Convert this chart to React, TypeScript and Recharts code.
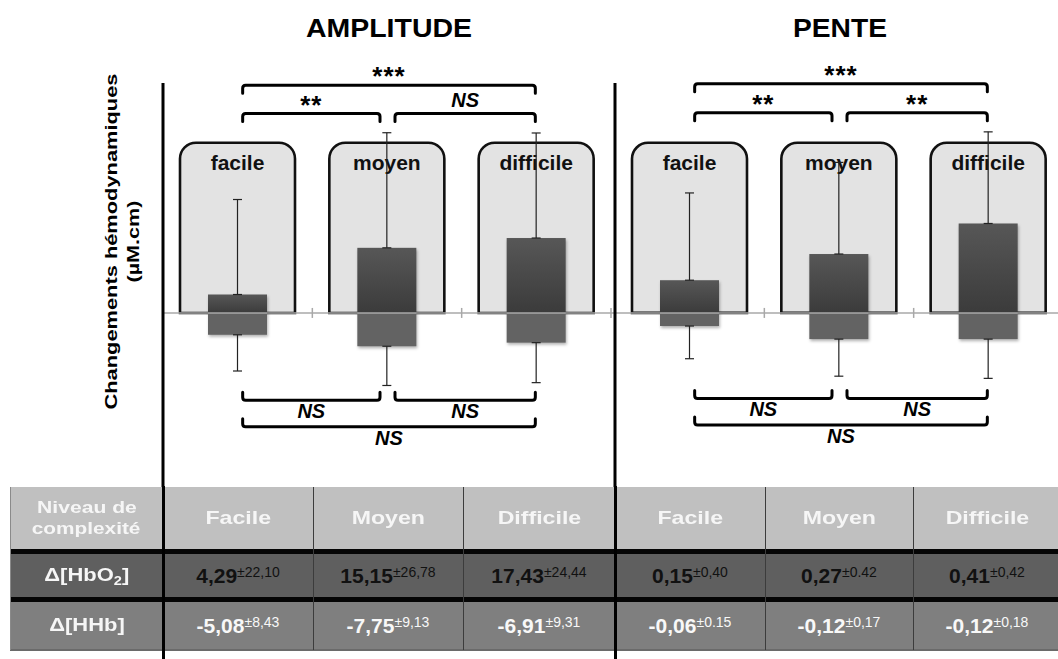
import React from 'react';
import { ComposedChart, Bar, XAxis, YAxis, ErrorBar, ReferenceLine } from 'recharts';

// categories / table headers
const categories = ['facile', 'moyen', 'difficile'];
const tableHeaders = ['Facile', 'Moyen', 'Difficile'];

// AMPLITUDE (µM.cm)
const amplitudeHbO2 = [4.29, 15.15, 17.43];
const amplitudeHbO2Sd = [22.1, 26.78, 24.44];
const amplitudeHHb = [-5.08, -7.75, -6.91];
const amplitudeHHbSd = [8.43, 9.13, 9.31];

// PENTE
const penteHbO2 = [0.15, 0.27, 0.41];
const penteHbO2Sd = [0.4, 0.42, 0.42];
const penteHHb = [-0.06, -0.12, -0.12];
const penteHHbSd = [0.15, 0.17, 0.18];

// sd as printed in the table (the source mixes , and .)
const amplitudeHbO2SdText = ['±22,10', '±26,78', '±24,44'];
const amplitudeHHbSdText = ['±8,43', '±9,13', '±9,31'];
const penteHbO2SdText = ['±0,40', '±0.42', '±0,42'];
const penteHHbSdText = ['±0.15', '±0,17', '±0,18'];

// comparisons: facile-moyen, moyen-difficile, facile-difficile
const pairs = [['facile', 'moyen'], ['moyen', 'difficile'], ['facile', 'difficile']];
const amplitudeTopSignif = ['**', 'NS', '***'];
const amplitudeBottomSignif = ['NS', 'NS', 'NS'];
const penteTopSignif = ['**', '**', '***'];
const penteBottomSignif = ['NS', 'NS', 'NS'];

const FONT = '"Liberation Sans", Arial, sans-serif';

// layout of each panel (axis units)
const amplitudeCfg = { domain: [-40.5, 53.5], boxTop: 39.6, pairTop: 46.4, wideTop: 53.0, pairBottom: -20.3, wideBottom: -26.5 };
const penteCfg = { domain: [-0.798, 1.054], boxTop: 0.78, pairTop: 0.918, wideTop: 1.05, pairBottom: -0.392, wideBottom: -0.514 };

const BoxShape = (props: any) => {
  const { x, y, width, height, payload } = props;
  const r = 16;
  const b = y + height;
  const d = `M${x},${b} L${x},${y + r} A${r},${r} 0 0 1 ${x + r},${y} L${x + width - r},${y} A${r},${r} 0 0 1 ${x + width},${y + r} L${x + width},${b} Z`;
  return (
    <g>
      <path d={d} fill="#e3e3e3" stroke="#111" strokeWidth={2.6} />
      <text x={x + width / 2} y={y + 27} textAnchor="middle" fontFamily={FONT} fontWeight="bold" fontSize={21} fill="#111">
        {payload.cat}
      </text>
    </g>
  );
};

const DataBar = (props: any) => {
  const { x, y, width, height, fill } = props;
  const top = Math.min(y, y + height);
  return (
    <rect x={x} y={top} width={width} height={Math.abs(height)} fill={fill}
      style={{ filter: 'drop-shadow(1.5px 2px 1.5px rgba(0,0,0,0.3))' }} />
  );
};

const ZeroLine = (props: any) => {
  const { x1, x2, y1 } = props;
  const w = x2 - x1;
  const ticks = [1, 2, 3].map((i) => x1 + (w * i) / 3);
  return (
    <g>
      <line x1={x1} x2={x2 + 4} y1={y1} y2={y1} stroke="#a8a8a8" strokeWidth={1.5} />
      {ticks.map((t) => (
        <line key={t} x1={t} x2={t} y1={y1 - 5} y2={y1 + 5} stroke="#a8a8a8" strokeWidth={1.5} />
      ))}
    </g>
  );
};

const makeBracket = (label: string, side: 'top' | 'bottom', padL: number, padR: number) => (props: any) => {
  const { x1, x2, y1 } = props;
  const a = Math.min(x1, x2) + padL;
  const b = Math.max(x1, x2) - padR;
  const y = y1;
  const dir = side === 'top' ? 1 : -1;
  const leg = 8;
  const r = 3;
  const d = `M${a},${y + dir * leg} L${a},${y + dir * r} Q${a},${y} ${a + r},${y} L${b - r},${y} Q${b},${y} ${b},${y + dir * r} L${b},${y + dir * leg}`;
  const stars = label.includes('*');
  const ty = side === 'top' ? (stars ? y + 0 : y - 6.5) : y + 18;
  return (
    <g>
      <path d={d} fill="none" stroke="#000" strokeWidth={3} strokeLinecap="round" strokeLinejoin="round" />
      <text x={(a + b) / 2} y={ty} textAnchor="middle" fontFamily={FONT} fontWeight="bold"
        fontStyle={stars ? 'normal' : 'italic'} fontSize={stars ? 26 : 20} letterSpacing={stars ? 1 : 0} fill="#000">
        {label}
      </text>
    </g>
  );
};

interface PanelProps {
  left: number;
  hbo2: number[];
  hbo2Sd: number[];
  hhb: number[];
  hhbSd: number[];
  topSignif: string[];
  bottomSignif: string[];
  cfg: typeof amplitudeCfg;
  id: string;
}

const Panel: React.FC<PanelProps> = ({ left, hbo2, hbo2Sd, hhb, hhbSd, topSignif, bottomSignif, cfg, id }) => {
  const data = categories.map((cat, i) => ({
    cat,
    box: cfg.boxTop,
    hbo2: hbo2[i],
    hbo2Err: [0, hbo2Sd[i]],
    hhb: hhb[i],
    hhbErr: [hhbSd[i], 0],
  }));

  const brackets: any[] = [];
  pairs.forEach(([from, to], i) => {
    const wide = i === 2;
    const padL = from === 'facile' ? 5 : 8;
    const padR = to === 'moyen' ? 7 : 1;
    brackets.push({ from, to, label: topSignif[i], side: 'top', level: wide ? cfg.wideTop : cfg.pairTop, padL, padR });
    brackets.push({ from, to, label: bottomSignif[i], side: 'bottom', level: wide ? cfg.wideBottom : cfg.pairBottom, padL, padR });
  });

  return (
    <div style={{ position: 'absolute', left, top: 0 }}>
      <ComposedChart width={621} height={487} data={data} stackOffset="sign"
        margin={{ top: 83, right: 10, bottom: 0, left: 162 }}>
        <defs>
          <linearGradient id={`grad-${id}`} x1="0" y1="0" x2="0" y2="1">
            <stop offset="0%" stopColor="#575757" />
            <stop offset="100%" stopColor="#3b3b3b" />
          </linearGradient>
        </defs>
        <XAxis xAxisId="box" dataKey="cat" type="category" hide />
        <XAxis xAxisId="bars" dataKey="cat" type="category" hide />
        <YAxis width={1} type="number" domain={cfg.domain} allowDataOverflow tick={false} tickLine={false}
          axisLine={{ stroke: '#000', strokeWidth: 3 }} />
        <Bar dataKey="box" xAxisId="box" barSize={115} shape={BoxShape} isAnimationActive={false} />
        <ReferenceLine y={0} xAxisId="bars" shape={ZeroLine} ifOverflow="visible" />
        <Bar dataKey="hbo2" xAxisId="bars" stackId="s" barSize={59} fill={`url(#grad-${id})`} shape={DataBar} isAnimationActive={false}>
          <ErrorBar dataKey="hbo2Err" direction="y" width={4.5} stroke="#222" strokeWidth={1.2} />
        </Bar>
        <Bar dataKey="hhb" xAxisId="bars" stackId="s" barSize={59} fill="#636363" shape={DataBar} isAnimationActive={false}>
          <ErrorBar dataKey="hhbErr" direction="y" width={4.5} stroke="#222" strokeWidth={1.2} />
        </Bar>
        {brackets.map((b) => (
          <ReferenceLine key={`${b.side}-${b.from}-${b.to}`} xAxisId="bars" ifOverflow="visible"
            segment={[{ x: b.from, y: b.level }, { x: b.to, y: b.level }]}
            shape={makeBracket(b.label, b.side, b.padL, b.padR)} />
        ))}
      </ComposedChart>
    </div>
  );
};

// ---------- table under the chart ----------
const colX = [10, 163, 313, 463, 615, 765, 913, 1061];
const fmt = (v: number) => v.toFixed(2).replace('.', ',');

const Value: React.FC<{ v: number; sd: string; color: string }> = ({ v, sd, color }) => (
  <span style={{ color, fontWeight: 'bold', fontSize: 21, whiteSpace: 'nowrap' }}>
    {fmt(v)}
    <span style={{ fontSize: 14, fontWeight: 'normal', position: 'relative', top: -6 }}>{sd}</span>
  </span>
);

const Stretch: React.FC<{ s?: number; children: React.ReactNode }> = ({ s = 1.25, children }) => (
  <span style={{ display: 'inline-block', transform: `scaleX(${s})` }}>{children}</span>
);

const Table: React.FC = () => {
  const rows = [
    { top: 487, h: 62, bg: '#c0c0c0' },
    { top: 554, h: 43, bg: '#5f5f5f' },
    { top: 602, h: 47, bg: '#7f7f7f' },
  ];
  const cell = (x0: number, x1: number, top: number, h: number, content: React.ReactNode, key: string) => (
    <div key={key} style={{
      position: 'absolute', left: x0, top, width: x1 - x0, height: h, display: 'flex',
      alignItems: 'center', justifyContent: 'center', textAlign: 'center', fontFamily: FONT,
    }}>{content}</div>
  );
  const hbo2Vals = [...amplitudeHbO2, ...penteHbO2];
  const hbo2Sd = [...amplitudeHbO2SdText, ...penteHbO2SdText];
  const hhbVals = [...amplitudeHHb, ...penteHHb];
  const hhbSd = [...amplitudeHHbSdText, ...penteHHbSdText];
  const headers = [...tableHeaders, ...tableHeaders];

  return (
    <>
      {rows.map((r, i) => (
        <div key={`bg${i}`} style={{ position: 'absolute', left: 10, top: r.top, width: 1051, height: r.h, background: r.bg }} />
      ))}
      <div style={{ position: 'absolute', left: 10, top: 549, width: 1051, height: 5, background: '#050505' }} />
      <div style={{ position: 'absolute', left: 10, top: 597, width: 1051, height: 5, background: '#050505' }} />
      <div style={{ position: 'absolute', left: 10, top: 649, width: 1051, height: 1.5, background: '#6a6a6a' }} />
      <div style={{ position: 'absolute', left: 9.5, top: 487, width: 1, height: 163, background: '#8a8a8a' }} />
      {[2, 3, 5, 6].map((c) => (
        <div key={`v${c}`} style={{ position: 'absolute', left: colX[c] - 0.5, top: 487, width: 1.2, height: 163, background: '#3c3c3c' }} />
      ))}
      {[1, 4].map((c) => (
        <div key={`a${c}`} style={{ position: 'absolute', left: colX[c] - 1.5, top: 486, width: 3, height: 173, background: '#000' }} />
      ))}
      {cell(10, 163, 487, 62, (
        <span style={{ color: '#f6f6f6', fontWeight: 'bold', fontSize: 16.5, lineHeight: '21px' }}>
          <Stretch s={1.28}>Niveau de</Stretch><br /><Stretch s={1.26}>complexité</Stretch>
        </span>
      ), 'h0')}
      {headers.map((h, i) => cell(colX[i + 1], colX[i + 2], 487, 62, (
        <span style={{ color: '#f6f6f6', fontWeight: 'bold', fontSize: 18.5 }}><Stretch>{h}</Stretch></span>
      ), `h${i + 1}`))}
      {cell(10, 163, 554, 43, (
        <span style={{ color: '#f6f6f6', fontWeight: 'bold', fontSize: 18 }}>
          <Stretch s={1.22}>Δ[HbO<span style={{ fontSize: 12, position: 'relative', top: 4 }}>2</span>]</Stretch>
        </span>
      ), 'r1')}
      {cell(10, 163, 602, 47, (
        <span style={{ color: '#f6f6f6', fontWeight: 'bold', fontSize: 18 }}><Stretch s={1.22}>Δ[HHb]</Stretch></span>
      ), 'r2')}
      {hbo2Vals.map((v, i) => cell(colX[i + 1], colX[i + 2], 554, 43, <Value v={v} sd={hbo2Sd[i]} color="#111" />, `o${i}`))}
      {hhbVals.map((v, i) => cell(colX[i + 1], colX[i + 2], 602, 47, <Value v={v} sd={hhbSd[i]} color="#f8f8f8" />, `d${i}`))}
    </>
  );
};

export default function App() {
  return (
    <div style={{ position: 'absolute', left: 0, top: 0, width: 1058, height: 659, overflow: 'hidden', background: '#fff' }}>
      <svg width={1058} height={659} style={{ position: 'absolute', left: 0, top: 0 }}>
        <text x={389} y={36.7} textAnchor="middle" fontFamily={FONT} fontWeight="bold" fontSize={25.5}
          textLength={166} lengthAdjust="spacingAndGlyphs">AMPLITUDE</text>
        <text x={840} y={36.7} textAnchor="middle" fontFamily={FONT} fontWeight="bold" fontSize={25.5}
          textLength={94} lengthAdjust="spacingAndGlyphs">PENTE</text>
        <text transform="translate(117,241.5) rotate(-90)" textAnchor="middle" fontFamily={FONT} fontWeight="bold"
          fontSize={16.5} textLength={336} lengthAdjust="spacingAndGlyphs">Changements hémodynamiques</text>
        <text transform="translate(138.5,241.5) rotate(-90)" textAnchor="middle" fontFamily={FONT} fontWeight="bold"
          fontSize={16.5} textLength={82} lengthAdjust="spacingAndGlyphs">(µM.cm)</text>
      </svg>
      <Panel left={0} hbo2={amplitudeHbO2} hbo2Sd={amplitudeHbO2Sd} hhb={amplitudeHHb} hhbSd={amplitudeHHbSd}
        topSignif={amplitudeTopSignif} bottomSignif={amplitudeBottomSignif} cfg={amplitudeCfg} id="amp" />
      <Panel left={452} hbo2={penteHbO2} hbo2Sd={penteHbO2Sd} hhb={penteHHb} hhbSd={penteHHbSd}
        topSignif={penteTopSignif} bottomSignif={penteBottomSignif} cfg={penteCfg} id="pente" />
      <Table />
    </div>
  );
}
